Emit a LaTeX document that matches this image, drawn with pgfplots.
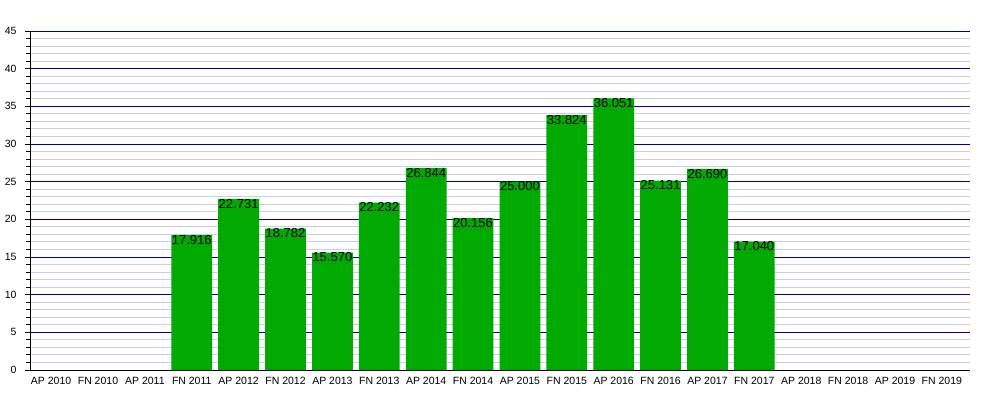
\documentclass[border=0pt]{standalone}
\usepackage{fontspec}
\setmainfont{Liberation Sans}
\usepackage{pgfplots}
\pgfplotsset{compat=1.18}
\definecolor{barg}{HTML}{00AA00}
\definecolor{majg}{HTML}{000099}
\definecolor{ming}{HTML}{CCCCEE}
\begin{document}
\begin{tikzpicture}
\useasboundingbox (-30pt,-30pt) rectangle (970pt,370pt);
\begin{axis}[
  at={(0pt,0pt)}, anchor=south west,
  scale only axis, width=940pt, height=339pt,
  xmin=-0.45, xmax=19.6, ymin=0, ymax=45,
  ytick={0,5,...,45}, minor y tick num=4,
  xtick={0,...,19},
  xticklabels={AP 2010, FN 2010, AP 2011, FN 2011, AP 2012, FN 2012, AP 2013, FN 2013, AP 2014, FN 2014, AP 2015, FN 2015, AP 2016, FN 2016, AP 2017, FN 2017, AP 2018, FN 2018, AP 2019, FN 2019},
  axis x line*=bottom, axis y line*=left,
  axis line style={black, line width=0.9pt, -},
  x tick style={draw=none},
  y tick style={black, line width=0.9pt},
  tick align=outside, major tick length=5pt, minor tick length=4pt,
  ymajorgrids, yminorgrids,
  major grid style={majg, line width=0.9pt},
  minor grid style={ming, line width=0.9pt},
  /pgf/number format/assume math mode=true,
  ticklabel style={font=\fontsize{10.5}{12}\selectfont},
  yticklabel style={xshift=-5pt},
  xticklabel style={yshift=1pt},
  ybar, bar width=0.87, bar shift=0pt,
  nodes near coords={\pgfmathprintnumber[fixed,fixed zerofill,precision=3]{\pgfplotspointmeta}},
  nodes near coords style={anchor=north, inner sep=0pt, yshift=0pt, font=\fontsize{13}{13}\selectfont, black},
]
\addplot[fill=barg, draw=none] coordinates {
  (3,17.916) (4,22.731) (5,18.782) (6,15.570) (7,22.232) (8,26.844) (9,20.156)
  (10,25.000) (11,33.824) (12,36.051) (13,25.131) (14,26.690) (15,17.040)
};
\end{axis}
\end{tikzpicture}
\end{document}
